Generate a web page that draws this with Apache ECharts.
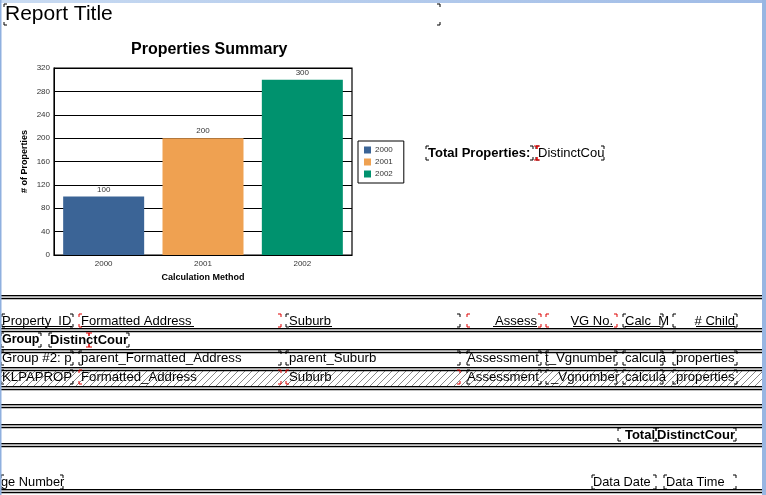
<!DOCTYPE html>
<html><head><meta charset="utf-8">
<script src="https://cdn.jsdelivr.net/npm/echarts@6/dist/echarts.min.js"></script>
<style>html,body{margin:0;padding:0;background:#fff}#c{width:766px;height:495px}</style>
</head><body><div id="c"></div>
<script>
// ---- data ----
var categories = ['2000', '2001', '2002'];
var seriesNames = ['2000', '2001', '2002'];
var values = [100, 200, 300];
var yTicks = { min: 0, max: 320, interval: 40 };
var chartTitle = 'Properties Summary';
var xName = 'Calculation Method';
var yName = '# of Properties';
var reportTitle = 'Report Title';
var headerLabels = ['Property  ID', 'Formatted Address', 'Suburb', 'Assess', 'VG No.', 'Calc  M', '# Child'];
var groupLabels = ['Group', 'DistinctCour'];
var group2Labels = ['Group #2: p', 'parent_Formatted_Address', 'parent_Suburb', 'Assessment', 't_Vgnumber', 'calcula', 'properties'];
var detailLabels = ['KLPAPROP', 'Formatted_Address', 'Suburb', 'Assessment', '_Vgnumber', 'calcula', 'properties'];
var totalLabels = ['Total', 'DistinctCour'];
var footerLabels = ['ge Number', 'Data Date', 'Data Time'];
var summaryLabels = ['Total Properties:', 'DistinctCou'];

// ---- styles / layout ----
var colors = ['#3B6496', '#EFA151', '#00926E'];
var FF = '"Liberation Sans", Arial, sans-serif';
var G = [];
function txt(x, y, s, o) {
  o = o || {};
  G.push({ type: 'text', x: x, y: y, z: 10, style: {
    text: s, fontFamily: FF, fontSize: o.size || 13, fontWeight: o.bold ? 'bold' : 'normal',
    fill: o.color || '#000', align: o.align || 'left', verticalAlign: 'middle' } });
}
function rect(x, y, w, h, fill, z) {
  G.push({ type: 'rect', shape: { x: x, y: y, width: w, height: h }, z: z || 5, style: { fill: fill } });
}
function dbl(y) { rect(0, y, 763, 1.5, '#000'); rect(0, y + 1.5, 763, 1.5, '#c8c8c8'); rect(0, y + 3, 763, 1.2, '#000'); }
function corners(x1, y1, x2, y2, col) {
  col = col || '#000';
  var d = 3;
  [[x1, y1, 1, 1], [x2, y1, -1, 1], [x1, y2, 1, -1], [x2, y2, -1, -1]].forEach(function (c) {
    G.push({ type: 'polyline', z: 12, shape: { points: [[c[0] + c[2] * d, c[1]], [c[0], c[1]], [c[0], c[1] + c[3] * d]] },
      style: { stroke: col, lineWidth: 1, fill: null } });
  });
}
function uline(x1, x2, y) { rect(x1, y, x2 - x1, 1, '#000', 11); }

// hatch pattern
var pc = document.createElement('canvas'); pc.width = 7; pc.height = 7;
var pctx = pc.getContext('2d');
pctx.fillStyle = '#fff'; pctx.fillRect(0, 0, 7, 7);
pctx.strokeStyle = '#888'; pctx.lineWidth = 1;
pctx.beginPath(); pctx.moveTo(-1, 8); pctx.lineTo(8, -1); pctx.stroke();

// frame
G.push({ type: 'rect', z: 1, shape: { x: 0, y: 0, width: 766, height: 3 },
  style: { fill: new echarts.graphic.LinearGradient(0, 0, 1, 0, [{ offset: 0, color: '#c9dbf2' }, { offset: 1, color: '#9fbbe6' }]) } });
rect(0, 0, 1.5, 495, '#8fb0df', 20);
rect(762, 0, 4, 495, '#98b6e2', 20);

// report title
txt(5, 14, reportTitle, { size: 21 });
corners(4, 4, 440, 25);

// summary text
txt(428, 153, summaryLabels[0], { size: 13, bold: true });
corners(426, 146, 533, 160);
txt(538, 153, summaryLabels[1], { size: 13 });
corners(536, 146, 604, 160);
corners(537, 146, 537, 160, '#e00');

// section lines
[295, 328, 349, 367, 386, 404, 424, 443, 489].forEach(dbl);

// hatched detail band
G.push({ type: 'rect', z: 2, shape: { x: 0, y: 371, width: 762, height: 15 }, style: { fill: { image: pc, repeat: 'repeat' } } });

// header row
var hdrBoxes = [[2, 73], [79, 281], [286, 460], [467, 541], [546, 617], [623, 663], [673, 737]];
var hdrAlign = ['left', 'left', 'left', 'right', 'right', 'left', 'right'];
var hdrX = [2, 81, 289, 537, 613, 625, 735];
headerLabels.forEach(function (s, i) {
  var b = hdrBoxes[i];
  txt(hdrX[i], 321, s, { size: 13, align: hdrAlign[i] });
  corners(b[0], 314, b[1], 327, i === 1 || i === 3 || i === 4 ? '#d00' : '#000');
});
uline(2, 72, 326); uline(81, 194, 326); uline(289, 332, 326); uline(493, 537, 326);
uline(573, 613, 326); uline(625, 660, 326); uline(696, 735, 326);

// group row
txt(2, 340, groupLabels[0], { size: 12.5, bold: true });
corners(1, 333, 41, 347);
txt(50, 340, groupLabels[1], { size: 13, bold: true });
corners(49, 333, 129, 347);
corners(89, 333, 89, 347, '#d00');

// group #2 row and detail row
var rowBoxes = [[1, 73], [79, 281], [286, 460], [467, 541], [546, 617], [623, 663], [673, 737]];
var rowX = [2, 81, 289, 467, 545, 625, 676];
group2Labels.forEach(function (s, i) {
  txt(rowX[i], 358, s, { size: 13.2 });
  corners(rowBoxes[i][0], 351, rowBoxes[i][1], 365);
});
detailLabels.forEach(function (s, i) {
  txt(rowX[i] + (i === 4 ? 6 : 0), 377, s, { size: 13.2 });
  corners(rowBoxes[i][0], 370, rowBoxes[i][1], 384, i === 1 || i === 2 ? '#d00' : '#000');
});

// total row
txt(655, 435, totalLabels[0], { size: 13, bold: true, align: 'right' });
corners(618, 428, 656, 441);
txt(657, 435, totalLabels[1], { size: 13, bold: true });
corners(656, 428, 736, 441);

// footer row
txt(1, 482, footerLabels[0], { size: 12.8 });
corners(1, 475, 63, 489);
txt(593, 482, footerLabels[1], { size: 12.8 });
corners(592, 475, 656, 489);
txt(666, 482, footerLabels[2], { size: 12.8 });
corners(664, 475, 736, 489);

// ---- chart ----
var series = seriesNames.map(function (n, i) {
  return {
    name: n, type: 'bar', barWidth: 81, barGap: '-100%',
    itemStyle: { color: colors[i] },
    label: { show: true, position: 'top', distance: 3, fontSize: 8, fontFamily: FF, color: '#333' },
    data: categories.map(function (c, j) { return j === i ? values[i] : null; })
  };
});

var chart = echarts.init(document.getElementById('c'), null, { renderer: 'canvas' });
chart.setOption({
  animation: false,
  title: { text: chartTitle, left: 131, top: 42, padding: 0,
    textStyle: { fontFamily: FF, fontSize: 16, fontWeight: 'bold', color: '#000' } },
  legend: { data: seriesNames, orient: 'vertical', left: 358, top: 141, itemWidth: 7, itemHeight: 7, itemGap: 4,
    icon: 'rect', borderColor: '#000', borderWidth: 1, padding: [5, 11, 5, 6],
    textStyle: { fontFamily: FF, fontSize: 8, color: '#333', padding: [0, 0, 0, -1] } },
  grid: { left: 54, top: 68, width: 298, height: 187, show: true, borderColor: '#000', borderWidth: 1.2 },
  xAxis: { type: 'category', data: categories, name: xName, nameLocation: 'middle', nameGap: 18,
    nameTextStyle: { fontFamily: FF, fontSize: 9, fontWeight: 'bold', color: '#000' },
    axisLine: { lineStyle: { color: '#000' } }, axisTick: { show: false },
    axisLabel: { fontFamily: FF, fontSize: 8, color: '#333', margin: 5 } },
  yAxis: { type: 'value', min: yTicks.min, max: yTicks.max, interval: yTicks.interval,
    name: yName, nameLocation: 'middle', nameGap: 25, nameRotate: 90,
    nameTextStyle: { fontFamily: FF, fontSize: 9, fontWeight: 'bold', color: '#000' },
    axisLine: { show: true, lineStyle: { color: '#000' } }, axisTick: { show: false },
    splitLine: { lineStyle: { color: '#000', width: 1 } },
    axisLabel: { fontFamily: FF, fontSize: 8, color: '#333', margin: 4 } },
  series: series,
  graphic: G
});
</script></body></html>
